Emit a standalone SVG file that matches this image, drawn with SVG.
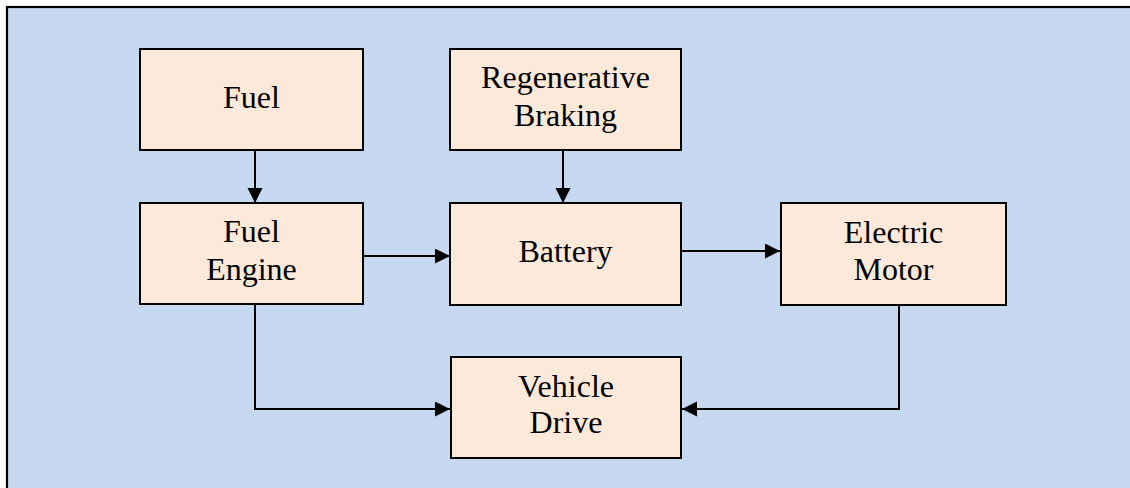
<svg xmlns="http://www.w3.org/2000/svg" width="1130" height="488" viewBox="0 0 1130 488">
  <style>
    .bg { fill: #C6D9F1; stroke: #000; stroke-width: 2.2; }
    .box { fill: #FDE9D9; stroke: #000; stroke-width: 2; }
    .lbl { font-family: "Liberation Serif", "Times New Roman", serif; font-size: 32px; fill: #000; text-anchor: middle; }
    .conn { fill: none; stroke: #000; stroke-width: 2; marker-end: url(#arr); }
  </style>
  <defs>
    <marker id="arr" markerUnits="userSpaceOnUse" markerWidth="16" markerHeight="16" refX="15" refY="7.5" orient="auto">
      <path d="M0,0 L15,7.5 L0,15 z" fill="#000"/>
    </marker>
  </defs>
  <rect class="bg" x="7" y="7" width="1140" height="500"/>
  <g id="connectors">
    <line class="conn" x1="255" y1="150" x2="255" y2="203"/>
    <line class="conn" x1="563" y1="150" x2="563" y2="203"/>
    <line class="conn" x1="362" y1="256" x2="450" y2="256"/>
    <line class="conn" x1="681" y1="251" x2="780" y2="251"/>
    <polyline class="conn" points="255,305 255,409 450,409"/>
    <polyline class="conn" points="899,305 899,409 682,409"/>
  </g>
  <g id="fuel">
    <rect class="box" x="140" y="49" width="223" height="101"/>
    <text class="lbl" x="251.5" y="108">Fuel</text>
  </g>
  <g id="regen">
    <rect class="box" x="450" y="49" width="231" height="101"/>
    <text class="lbl" x="565.5" y="88">Regenerative</text>
    <text class="lbl" x="565.5" y="126">Braking</text>
  </g>
  <g id="engine">
    <rect class="box" x="140" y="203" width="223" height="101"/>
    <text class="lbl" x="251.5" y="242">Fuel</text>
    <text class="lbl" x="251.5" y="280">Engine</text>
  </g>
  <g id="battery">
    <rect class="box" x="450" y="203" width="231" height="102"/>
    <text class="lbl" x="565.5" y="262">Battery</text>
  </g>
  <g id="motor">
    <rect class="box" x="781" y="203" width="225" height="102"/>
    <text class="lbl" x="893.5" y="243">Electric</text>
    <text class="lbl" x="893.5" y="280">Motor</text>
  </g>
  <g id="drive">
    <rect class="box" x="451" y="357" width="230" height="101"/>
    <text class="lbl" x="566" y="397">Vehicle</text>
    <text class="lbl" x="566" y="433">Drive</text>
  </g>
</svg>
